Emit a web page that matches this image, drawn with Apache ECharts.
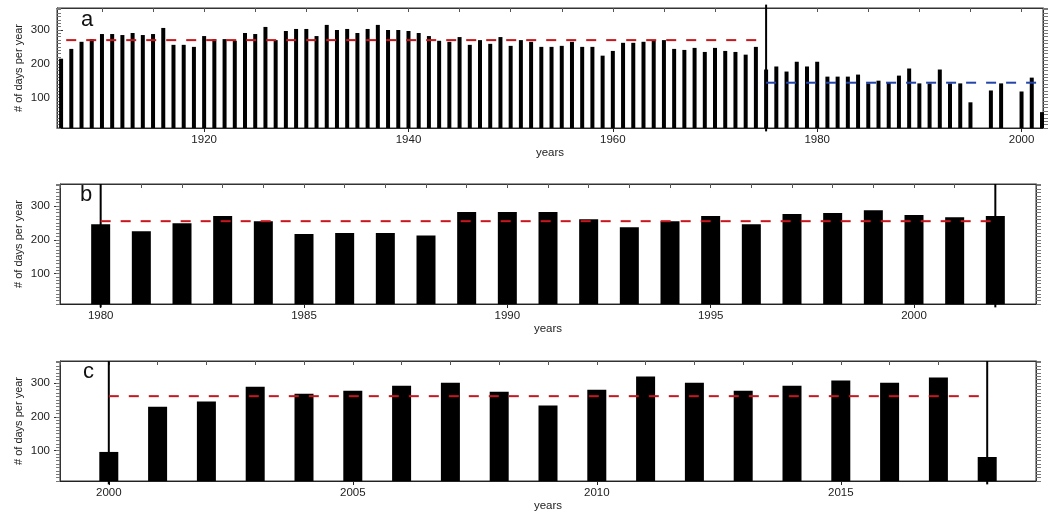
<!DOCTYPE html>
<html>
<head>
<meta charset="utf-8">
<script src="https://cdn.jsdelivr.net/npm/echarts@6/dist/echarts.min.js"></script>
<style>
html,body{margin:0;padding:0;background:#fff;}
#chart{width:1049px;height:516px;}
</style>
</head>
<body>
<div id="chart"></div>
<script>
// ---- Data ----
const yearsA = [1906,1907,1908,1909,1910,1911,1912,1913,1914,1915,1916,1917,1918,1919,1920,1921,1922,1923,1924,1925,1926,1927,1928,1929,1930,1931,1932,1933,1934,1935,1936,1937,1938,1939,1940,1941,1942,1943,1944,1945,1946,1947,1948,1949,1950,1951,1952,1953,1954,1955,1956,1957,1958,1959,1960,1961,1962,1963,1964,1965,1966,1967,1968,1969,1970,1971,1972,1973,1974,1975,1976,1977,1978,1979,1980,1981,1982,1983,1984,1985,1986,1987,1988,1989,1990,1991,1992,1993,1994,1995,1997,1998,2000,2001,2002];
const daysA = [215,244,265,273,288,288,285,291,285,288,306,256,256,250,282,273,273,268,291,288,309,270,297,303,303,282,315,300,303,291,303,315,300,300,297,291,282,268,265,279,256,270,259,279,253,270,265,250,250,253,265,250,250,224,238,262,262,265,270,270,244,241,247,235,247,238,235,227,250,183,192,177,206,192,206,162,162,162,168,142,150,145,165,186,142,142,183,142,142,86,121,142,118,159,57];
const yearsB = [1980,1981,1982,1983,1984,1985,1986,1987,1988,1989,1990,1991,1992,1993,1994,1995,1996,1997,1998,1999,2000,2001,2002];
const daysB = [246,225,249,270,255,217,220,220,213,282,282,282,261,237,255,270,246,276,279,287,273,267,270];
const yearsC = [2000,2001,2002,2003,2004,2005,2006,2007,2008,2009,2010,2011,2012,2013,2014,2015,2016,2017,2018];
const daysC = [96,230,245,289,268,277,292,301,274,233,280,319,301,277,292,307,301,316,81];

const meanA1 = 270, meanA2 = 144, meanB = 255, meanC = 261;
const breakA = 1975;
const marksB = [1980, 2002];
const marksC = [2000, 2018];

const ticksA = [1920,1940,1960,1980,2000];
const ticksB = [1980,1985,1990,1995,2000];
const ticksC = [2000,2005,2010,2015];
const yTicks = [100,200,300];
const panelLetters = ['a','b','c'];

// ---- helpers ----
function range(a,b,s){const r=[];for(let v=a;v<=b;v+=s)r.push(v);return r;}
const FONT = 'Liberation Sans, Arial, Helvetica, sans-serif';
const TXT = '#222';
const Y_MIN = 10, Y_MAX = 365;
const plain = v => String(Math.round(v));

const panels = [
  {top:8,  left:57, right:6,  xmin:1905.6, xmax:2002.1, labels:ticksA, topTicks:range(1910,2000,5), barW:4, leftInside:true},
  {top:184,left:60, right:13, xmin:1979,   xmax:2003,   labels:ticksB, topTicks:range(1979,2003,1), barW:19, leftInside:false},
  {top:361,left:60, right:13, xmin:1999,   xmax:2019,   labels:ticksC, topTicks:range(1999,2019,1), barW:19, leftInside:false}
];

const grid=[], xAxis=[], yAxis=[], series=[];
panels.forEach((p,i)=>{
  grid.push({left:p.left,right:p.right,top:p.top,height:120,show:true,borderColor:'#333',borderWidth:1,backgroundColor:'#fff'});
  xAxis.push({type:'value',gridIndex:i,position:'bottom',min:p.xmin,max:p.xmax,
    name:'years',nameLocation:'middle',nameGap:19,nameMoveOverlap:false,nameTextStyle:{fontFamily:FONT,fontSize:11.5,color:TXT},
    axisLine:{show:true,onZero:false,lineStyle:{color:'#222',width:1}},
    axisTick:{show:true,inside:false,length:4,customValues:p.labels,lineStyle:{color:'#222'}},
    axisLabel:{show:true,customValues:p.labels,formatter:plain,margin:6,fontFamily:FONT,fontSize:11.5,color:TXT},
    splitLine:{show:false}});
  xAxis.push({type:'value',gridIndex:i,position:'top',min:p.xmin,max:p.xmax,
    axisLine:{show:true,onZero:false,lineStyle:{color:'#333'}},
    axisTick:{show:true,inside:true,length:4,customValues:p.topTicks,lineStyle:{color:'#555'}},
    axisLabel:{show:false},splitLine:{show:false}});
  yAxis.push({type:'value',gridIndex:i,position:'left',min:Y_MIN,max:Y_MAX,
    name:'# of days per year',nameLocation:'middle',nameGap:p.leftInside?33:36,nameRotate:90,nameMoveOverlap:false,
    nameTextStyle:{fontFamily:FONT,fontSize:11,color:TXT},
    axisLine:{show:true,onZero:false,lineStyle:{color:'#333'}},
    axisTick:{show:true,inside:p.leftInside,length:6,customValues:yTicks,lineStyle:{color:'#333'}},
    axisLabel:{show:true,customValues:yTicks,formatter:plain,margin:p.leftInside?7:10,fontFamily:FONT,fontSize:11.5,color:TXT},
    splitLine:{show:false}});
  yAxis.push({type:'value',gridIndex:i,position:'left',min:Y_MIN,max:Y_MAX,interval:10,
    axisLine:{show:false},axisTick:{show:true,inside:p.leftInside,length:4,lineStyle:{color:'#777'}},
    axisLabel:{show:false},splitLine:{show:false}});
  yAxis.push({type:'value',gridIndex:i,position:'right',min:Y_MIN,max:Y_MAX,interval:10,
    axisLine:{show:true,onZero:false,lineStyle:{color:'#333'}},axisTick:{show:true,inside:false,length:5,lineStyle:{color:'#777'}},
    axisLabel:{show:false},splitLine:{show:false}});
});

function barSeries(i, yrs, vals, w){
  return {type:'bar',xAxisIndex:2*i,yAxisIndex:3*i,barWidth:w,
    itemStyle:{color:'#000'},silent:true,z:2,
    data:yrs.map((y,k)=>[y,vals[k]])};
}
function vline(i, x, top){
  return {type:'line',xAxisIndex:2*i,yAxisIndex:3*i,clip:false,symbol:'none',silent:true,z:4,
    lineStyle:{color:'#000',width:2},data:[[x,0],[x,top]]};
}
function hdash(i, x0, x1, v, color){
  return {type:'line',xAxisIndex:2*i,yAxisIndex:3*i,symbol:'none',silent:true,z:5,
    lineStyle:{color:color,width:2,type:[10,10]},data:[[x0,v],[x1,v]]};
}

series.push(barSeries(0, yearsA, daysA, panels[0].barW));
series.push(barSeries(1, yearsB, daysB, panels[1].barW));
series.push(barSeries(2, yearsC, daysC, panels[2].barW));
series.push(hdash(0, yearsA[0]+0.5, breakA, meanA1, '#c8161d'));
series.push(hdash(0, breakA, panels[0].xmax, meanA2, '#2444a8'));
series.push(hdash(1, marksB[0], marksB[1], meanB, '#c8161d'));
series.push(hdash(2, marksC[0], marksC[1], meanC, '#c8161d'));
series.push(vline(0, breakA, Y_MAX+10));
marksB.forEach(x=>series.push(vline(1, x, Y_MAX)));
marksC.forEach(x=>series.push(vline(2, x, Y_MAX)));

const letterPos = [[81,9],[80,184],[83,361]];
const graphic = panelLetters.map((t,k)=>({type:'text',left:letterPos[k][0],top:letterPos[k][1],z:10,
  style:{text:t,fontFamily:FONT,fontSize:22,fill:'#111'}}));

const chart = echarts.init(document.getElementById('chart'),null,{renderer:'canvas'});
chart.setOption({animation:false,backgroundColor:'#fff',grid,xAxis,yAxis,series,graphic});
</script>
</body>
</html>
